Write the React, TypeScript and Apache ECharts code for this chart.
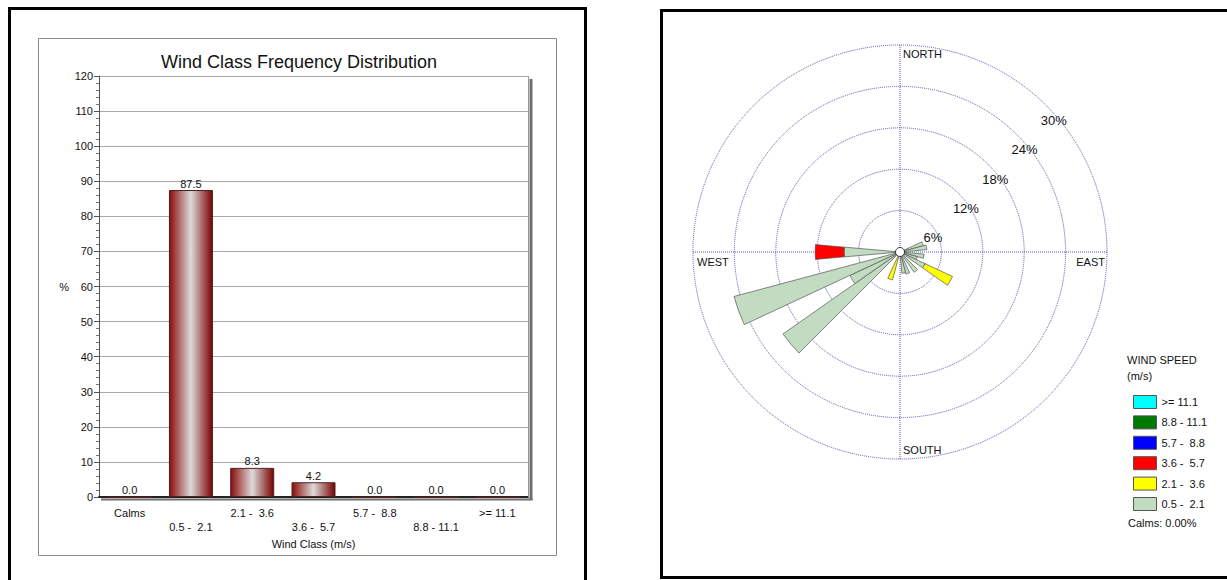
import React, { useEffect, useRef } from 'react';
import * as echarts from 'echarts';

// ---------- Bar chart data ----------
const windClasses = ['Calms', '0.5 -  2.1', '2.1 -  3.6', '3.6 -  5.7', '5.7 -  8.8', '8.8 - 11.1', '>= 11.1'];
const classFrequency = [0.0, 87.5, 8.3, 4.2, 0.0, 0.0, 0.0];

// ---------- Wind rose data (36 directions, degrees clockwise from north) ----------
const bearings = ['0', '10', '20', '30', '40', '50', '60', '70', '80', '90', '100', '110',
  '120', '130', '140', '150', '160', '170', '180', '190', '200', '210', '220', '230',
  '240', '250', '260', '270', '280', '290', '300', '310', '320', '330', '340', '350'];
//                         0  10  20  30  40  50  60   70   80  90  100  110  120 130  140 150  160  170 180 190 200 210 220   230  240   250 260  270 280 290 300 310 320 330 340 350
const speed05_21 = [0, 0, 0, 0, 0, 0, 0, 3.5, 3.9, 0, 3.5, 2.6, 4.0, 0, 3.6, 0, 3.3, 3.1, 0, 0, 0.3, 0, 0, 20.7, 8.0, 24.9, 0, 8.1, 0, 0, 0, 0, 0, 0, 0, 0];
const speed21_36 = [0, 0, 0, 0, 0, 0, 0, 0, 0, 0, 0, 0, 4.4, 0, 0, 0, 0, 0, 0, 0, 3.9, 0, 0, 0, 0, 0, 0, 0, 0, 0, 0, 0, 0, 0, 0, 0];
const speed36_57 = [0, 0, 0, 0, 0, 0, 0, 0, 0, 0, 0, 0, 0, 0, 0, 0, 0, 0, 0, 0, 0, 0, 0, 0, 0, 0, 0, 4.2, 0, 0, 0, 0, 0, 0, 0, 0];
const speed57_88 = [0, 0, 0, 0, 0, 0, 0, 0, 0, 0, 0, 0, 0, 0, 0, 0, 0, 0, 0, 0, 0, 0, 0, 0, 0, 0, 0, 0, 0, 0, 0, 0, 0, 0, 0, 0];
const speed88_111 = [0, 0, 0, 0, 0, 0, 0, 0, 0, 0, 0, 0, 0, 0, 0, 0, 0, 0, 0, 0, 0, 0, 0, 0, 0, 0, 0, 0, 0, 0, 0, 0, 0, 0, 0, 0];
const speed111 = [0, 0, 0, 0, 0, 0, 0, 0, 0, 0, 0, 0, 0, 0, 0, 0, 0, 0, 0, 0, 0, 0, 0, 0, 0, 0, 0, 0, 0, 0, 0, 0, 0, 0, 0, 0];

const speedClasses = ['0.5 -  2.1', '2.1 -  3.6', '3.6 -  5.7', '5.7 -  8.8', '8.8 - 11.1', '>= 11.1'];
const speedSeries = [speed05_21, speed21_36, speed36_57, speed57_88, speed88_111, speed111];
const speedColors = ['#c2dcc2', '#ffff00', '#ff0000', '#0000ff', '#007a00', '#00ffff'];
const legendOrder = ['>= 11.1', '8.8 - 11.1', '5.7 -  8.8', '3.6 -  5.7', '2.1 -  3.6', '0.5 -  2.1'];
const compassLabels = ['NORTH', 'EAST', 'SOUTH', 'WEST'];
const calmsText = 'Calms: 0.00%';

const FONT = 'Liberation Sans, Arial, sans-serif';

// layout of the wind rose
const CX = 900;
const CY = 252;
const R = 207;
const ringColor = '#5252b4';

export default function App() {
  const ref = useRef<HTMLDivElement>(null);

  useEffect(() => {
    const chart = echarts.init(ref.current!, null, { renderer: 'svg' });

    const barGradient = {
      type: 'linear', x: 0, y: 0, x2: 1, y2: 0,
      colorStops: [
        { offset: 0, color: '#8a0c0c' },
        { offset: 0.5, color: '#dedada' },
        { offset: 1, color: '#780000' },
      ],
    };

    const option: any = {
      animation: false,
      backgroundColor: '#fff',
      textStyle: { fontFamily: FONT },
      title: [
        {
          text: 'Wind Class Frequency Distribution',
          left: 156, top: 48,
          textStyle: { fontSize: 18, fontWeight: 'normal', color: '#111', fontFamily: FONT },
        },
        {
          text: 'WIND SPEED\n(m/s)',
          left: 1122, top: 347,
          textStyle: { fontSize: 11, fontWeight: 'normal', color: '#111', lineHeight: 16, fontFamily: FONT },
        },
      ],
      legend: {
        orient: 'vertical',
        left: 1128, top: 390,
        itemWidth: 23, itemHeight: 13, itemGap: 6.4,
        icon: 'rect',
        data: legendOrder,
        selectedMode: false,
        textStyle: { fontSize: 11, color: '#111', fontFamily: FONT },
        itemStyle: { borderColor: '#555', borderWidth: 1 },
      },
      grid: { left: 99, top: 76, width: 429, height: 421 },
      xAxis: {
        type: 'category',
        data: windClasses,
        name: 'Wind Class (m/s)',
        nameLocation: 'middle',
        nameGap: 34,
        nameTextStyle: { fontSize: 11, color: '#111' },
        axisLine: { lineStyle: { color: '#222', width: 2 } },
        axisTick: { alignWithLabel: true, length: 8, lineStyle: { color: '#333' } },
        axisLabel: {
          fontSize: 11, color: '#111', margin: 9, lineHeight: 14, interval: 0,
          formatter: (v: string, i: number) => (i % 2 === 1 ? '\n' + v : v),
        },
      },
      yAxis: {
        type: 'value',
        min: 0, max: 120, interval: 10,
        name: '%',
        nameLocation: 'middle',
        nameRotate: 0,
        nameGap: 30,
        nameTextStyle: { fontSize: 11, color: '#111' },
        axisLine: { show: true, lineStyle: { color: '#555' } },
        axisTick: { show: true, length: 5, lineStyle: { color: '#555' } },
        minorTick: { show: true, splitNumber: 5, length: 3, lineStyle: { color: '#777' } },
        axisLabel: { fontSize: 11, color: '#111', margin: 6 },
        splitLine: { lineStyle: { color: '#a8a8a8', width: 1 } },
      },
      polar: [
        { center: [CX, CY], radius: R },
        { center: [CX, CY], radius: R },
        { center: [CX, CY], radius: R },
      ],
      angleAxis: [
        {
          polarIndex: 0, type: 'category', data: bearings, startAngle: 95, clockwise: true,
          axisLine: { show: false }, axisTick: { show: false }, axisLabel: { show: false }, splitLine: { show: false },
        },
        {
          polarIndex: 1, type: 'value', min: 0, max: 360, interval: 90, startAngle: 90, clockwise: true,
          axisLine: { show: false },
          axisTick: { show: false }, axisLabel: { show: false },
          splitLine: { show: true, lineStyle: { color: ringColor, type: 'dotted', width: 1 } },
        },
        {
          polarIndex: 2, type: 'value', min: 0, max: 360, startAngle: 45, show: false,
        },
      ],
      radiusAxis: [
        {
          polarIndex: 0, type: 'value', min: 0, max: 30, interval: 6,
          axisLine: { show: false }, axisTick: { show: false }, axisLabel: { show: false },
          splitLine: { show: true, lineStyle: { color: ringColor, type: 'dotted', width: 1 } },
        },
        {
          polarIndex: 1, type: 'value', min: 0, max: 30, interval: 6,
          axisLine: { show: false }, axisTick: { show: false }, axisLabel: { show: false }, splitLine: { show: false },
        },
        {
          polarIndex: 2, type: 'value', min: 0, max: 30, interval: 6,
          axisLine: { show: false }, axisTick: { show: false }, splitLine: { show: false },
          axisLabel: {
            show: true, showMinLabel: false, margin: 8,
            align: 'left', verticalAlign: 'top', padding: [14, 0, 0, 0],
            fontSize: 13, color: '#111', formatter: '{value}%',
          },
        },
      ],
      series: [
        {
          type: 'bar',
          data: classFrequency,
          barWidth: 44,
          itemStyle: { color: barGradient, borderColor: '#4a2020', borderWidth: 1 },
          label: {
            show: true, position: 'top', distance: 1, fontSize: 11, color: '#111',
            formatter: (p: any) => Number(p.value).toFixed(1),
          },
        },
        ...speedClasses.map((name, k) => ({
          type: 'bar',
          name,
          coordinateSystem: 'polar',
          polarIndex: 0,
          stack: 'rose',
          barCategoryGap: '0%',
          data: speedSeries[k].map((v) => (v === 0 ? null : v)),
          itemStyle: { color: speedColors[k], borderColor: '#555', borderWidth: 0.7 },
          z: 3,
        })),
      ],
      graphic: [
        // frames
        { type: 'rect', shape: { x: 9.5, y: 8.5, width: 576, height: 600 }, style: { fill: 'none', stroke: '#000', lineWidth: 3 }, z: 100 },
        { type: 'rect', shape: { x: 38.5, y: 38.5, width: 518, height: 517 }, style: { fill: 'none', stroke: '#8a8a8a', lineWidth: 1 }, z: 100 },
        { type: 'rect', shape: { x: 661.5, y: 10.5, width: 600, height: 567 }, style: { fill: 'none', stroke: '#000', lineWidth: 3 }, z: 100 },
        // plot-area right border and shadow
        { type: 'line', shape: { x1: 528.5, y1: 76, x2: 528.5, y2: 497 }, style: { stroke: '#999', lineWidth: 1 }, z: 5 },
        { type: 'line', shape: { x1: 531, y1: 79, x2: 531, y2: 500 }, style: { stroke: '#6e6e6e', lineWidth: 3 }, z: 5 },
        { type: 'line', shape: { x1: 101, y1: 499.5, x2: 532.5, y2: 499.5 }, style: { stroke: '#6e6e6e', lineWidth: 2 }, z: 5 },
        // calm circle
        { type: 'circle', shape: { cx: CX, cy: CY, r: 4.5 }, style: { fill: '#fff', stroke: '#333', lineWidth: 1 }, z: 50 },
        // compass labels
        { type: 'text', x: CX + 3, y: CY - R + 3, style: { text: compassLabels[0], font: `11px ${FONT}`, fill: '#111', textAlign: 'left', textVerticalAlign: 'top' }, z: 50 },
        { type: 'text', x: CX + R - 2, y: CY + 4, style: { text: compassLabels[1], font: `11px ${FONT}`, fill: '#111', textAlign: 'right', textVerticalAlign: 'top' }, z: 50 },
        { type: 'text', x: CX + 3, y: CY + R - 4, style: { text: compassLabels[2], font: `11px ${FONT}`, fill: '#111', textAlign: 'left', textVerticalAlign: 'bottom' }, z: 50 },
        { type: 'text', x: CX - R + 4, y: CY + 4, style: { text: compassLabels[3], font: `11px ${FONT}`, fill: '#111', textAlign: 'left', textVerticalAlign: 'top' }, z: 50 },
        // calms note
        { type: 'text', x: 1128, y: 517, style: { text: calmsText, font: `11px ${FONT}`, fill: '#111', textAlign: 'left', textVerticalAlign: 'top' }, z: 50 },
      ],
    };

    chart.setOption(option);
    return () => chart.dispose();
  }, []);

  return (
    <div
      ref={ref}
      style={{ position: 'absolute', left: 0, top: 0, width: 1227, height: 580, background: '#fff' }}
    />
  );
}
